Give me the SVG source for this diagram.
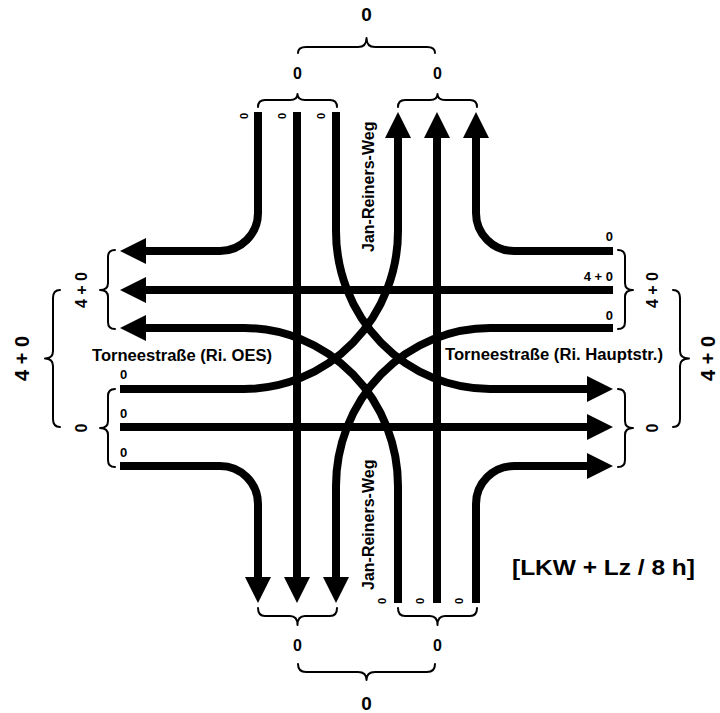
<svg xmlns="http://www.w3.org/2000/svg" width="720" height="713" viewBox="0 0 720 713">
<defs>
<marker id="ah" markerUnits="userSpaceOnUse" markerWidth="26" markerHeight="26" viewBox="0 0 26 26" refX="1" refY="13" orient="auto">
<path d="M0,0 L26,13 L0,26 z" fill="#000"/>
</marker>
<style>
.lane{fill:none;stroke:#000;stroke-width:8}
.arr{marker-end:url(#ah)}
.br{fill:none;stroke:#000;stroke-width:2;stroke-linecap:round;stroke-linejoin:round}
text{font-family:"Liberation Sans",Arial,sans-serif;font-weight:bold;fill:#000}
.t10{font-size:11px}
.t12{font-size:13px}
.t15{font-size:16px}
.t18{font-size:19px}
.t19{font-size:20px}
.st{font-size:16px}
.mid{text-anchor:middle}
.end{text-anchor:end}
</style>
</defs>
<rect width="720" height="713" fill="#fff"/>
<g id="connectors">
<path class="lane arr" d="M258,112 V213 A38,38 0 0 1 220,251 H145"/>
<path class="lane arr" d="M297,112 V578"/>
<path class="lane arr" d="M336,112 V231 A154,158 0 0 0 490,389 H588"/>
<path class="lane arr" d="M476,603 V504 A38,38 0 0 1 514,466 H588"/>
<path class="lane arr" d="M437,603 V137"/>
<path class="lane arr" d="M398,603 V486 A154,158 0 0 0 244,328 H145"/>
<path class="lane arr" d="M120,466 H220 A38,38 0 0 1 258,504 V578"/>
<path class="lane arr" d="M120,427 H588"/>
<path class="lane arr" d="M120,389 H244 A154,158 0 0 0 398,231 V137"/>
<path class="lane arr" d="M613,251 H514 A38,38 0 0 1 476,213 V137"/>
<path class="lane arr" d="M613,290 H145"/>
<path class="lane arr" d="M613,328 H490 A154,158 0 0 0 336,486 V578"/>
</g>
<g id="braces">
<path class="br" d="M258,107 Q258,100 265,100 H290 Q297.5,100 297.5,94 Q297.5,100 305,100 H330 Q337,100 337,107"/>
<path class="br" d="M398,107 Q398,100 405,100 H430 Q437.5,100 437.5,94 Q437.5,100 445,100 H470 Q477,100 477,107"/>
<path class="br" d="M298,53 Q298,47 306,47 H358 Q366.5,47 366.5,38 Q366.5,47 375,47 H427 Q435,47 435,53"/>
<path class="br" d="M258,608 Q258,616 265,616 H290 Q297.5,616 297.5,625 Q297.5,616 305,616 H330 Q337,616 337,608"/>
<path class="br" d="M398,608 Q398,616 405,616 H430 Q437.5,616 437.5,625 Q437.5,616 445,616 H470 Q477,616 477,608"/>
<path class="br" d="M298,664 Q298,672 306,672 H358 Q366.5,672 366.5,680 Q366.5,672 375,672 H427 Q435,672 435,664"/>
<path class="br" d="M115,250 Q108,250 108,257 V283 Q108,290 100,290 Q108,290 108,297 V322 Q108,329 115,329"/>
<path class="br" d="M115,389 Q108,389 108,396 V421 Q108,428 100,428 Q108,428 108,435 V460 Q108,467 115,467"/>
<path class="br" d="M60,290 Q53,290 53,298 V351 Q53,358.5 45,358.5 Q53,358.5 53,366 V419 Q53,427 60,427"/>
<path class="br" d="M618,250 Q625,250 625,257 V283 Q625,290 633,290 Q625,290 625,297 V322 Q625,329 618,329"/>
<path class="br" d="M618,389 Q625,389 625,396 V421 Q625,428 633,428 Q625,428 625,435 V460 Q625,467 618,467"/>
<path class="br" d="M673,290 Q680,290 680,298 V351 Q680,358.5 689,358.5 Q680,358.5 680,366 V419 Q680,427 673,427"/>
</g>
<g id="labels-top">
<text class="t18 mid" x="366.5" y="21">0</text>
<text class="t15 mid" x="297.5" y="79">0</text>
<text class="t15 mid" x="437.5" y="79">0</text>
<text class="t10 mid" transform="translate(248,116) rotate(-90)">0</text>
<text class="t10 mid" transform="translate(286,116) rotate(-90)">0</text>
<text class="t10 mid" transform="translate(325,116) rotate(-90)">0</text>
</g>
<g id="labels-bottom">
<text class="t18 mid" x="366.5" y="710">0</text>
<text class="t15 mid" x="297.5" y="651">0</text>
<text class="t15 mid" x="437.5" y="651">0</text>
<text class="t10 mid" transform="translate(386,601) rotate(-90)">0</text>
<text class="t10 mid" transform="translate(424,601) rotate(-90)">0</text>
<text class="t10 mid" transform="translate(463,601) rotate(-90)">0</text>
</g>
<g id="labels-left">
<text class="t15 mid" transform="translate(87,290) rotate(-90)">4 + 0</text>
<text class="t15 mid" transform="translate(87,428) rotate(-90)">0</text>
<text class="t19 mid" transform="translate(29,358.5) rotate(-90)">4 + 0</text>
<text class="t12" x="120" y="379">0</text>
<text class="t12" x="120" y="418">0</text>
<text class="t12" x="120" y="457">0</text>
</g>
<g id="labels-right">
<text class="t15 mid" transform="translate(658,290) rotate(-90)">4 + 0</text>
<text class="t15 mid" transform="translate(658,428) rotate(-90)">0</text>
<text class="t19 mid" transform="translate(715,358.5) rotate(-90)">4 + 0</text>
<text class="t12 end" x="613" y="241">0</text>
<text class="t12 end" x="613" y="281">4 + 0</text>
<text class="t12 end" x="613" y="320">0</text>
</g>
<g id="street-names">
<text class="st" x="92" y="361" textLength="180" lengthAdjust="spacingAndGlyphs">Torneestraße (Ri. OES)</text>
<text class="st" x="445" y="360" textLength="218" lengthAdjust="spacingAndGlyphs">Torneestraße (Ri. Hauptstr.)</text>
<text class="st" transform="translate(374,252) rotate(-90)">Jan-Reiners-Weg</text>
<text class="st" transform="translate(374,590) rotate(-90)">Jan-Reiners-Weg</text>
</g>
<g id="legend">
<text x="512" y="575" style="font-size:22px" textLength="183" lengthAdjust="spacingAndGlyphs">[LKW + Lz / 8 h]</text>
</g>
</svg>
